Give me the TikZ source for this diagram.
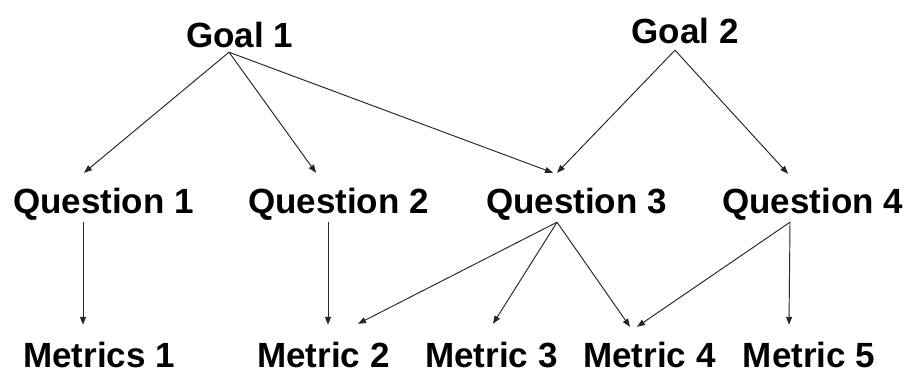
\documentclass[tikz,border=0pt]{standalone}
\usepackage{fontspec}
\setmainfont{Liberation Sans}
\usetikzlibrary{arrows.meta,calc}
\begin{document}
\begin{tikzpicture}[x=1pt,y=-1pt,
  lbl/.style={font=\bfseries\fontsize{35}{40}\selectfont, inner sep=0pt, text height=26pt, text depth=0pt, anchor=base},
  arr/.style={draw=black!85, line width=0.95pt, -{Triangle[length=8pt,width=6pt]}}]
\useasboundingbox[fill=white] (0,0) rectangle (909,374);
% nodes
\node[lbl] (g1) at (239.5,48) {Goal 1};
\node[lbl] (g2) at (685,44) {Goal 2};
\node[lbl] (q1) at (103.5,213) {Question 1};
\node[lbl] (q2) at (338.5,213) {Question 2};
\node[lbl] (q3) at (576.5,213) {Question 3};
\node[lbl] (q4) at (812.5,213) {Question 4};
\node[lbl] (m1) at (99,367) {Metrics 1};
\node[lbl] (m2) at (323.5,367) {Metric 2};
\node[lbl] (m3) at (491.5,367) {Metric 3};
\node[lbl] (m4) at (649.5,367) {Metric 4};
\node[lbl] (m5) at (809,367) {Metric 5};
% goal -> question
\draw[arr] ($(g1.south)+(-10.5,4)$) -- ($(q1.north)+(-19.5,-14)$);
\draw[arr] ($(g1.south)+(-10.5,4)$) -- ($(q2.north)+(-22.5,-14)$);
\draw[arr] ($(g1.south)+(-10.5,4)$) -- ($(q3.north)+(-23.5,-14)$);
\draw[arr] ($(g2.south)+(-10,6)$) -- ($(q3.north)+(-19.5,-14)$);
\draw[arr] ($(g2.south)+(-10,6)$) -- ($(q4.north)+(-24.5,-13)$);
% question -> metric
\draw[arr] ($(q1.south)+(-20.5,9)$) -- ($(m1.north)+(-16,-16)$);
\draw[arr] ($(q2.south)+(-10.5,9)$) -- ($(m2.north)+(4.5,-16)$);
\draw[arr] ($(q3.south)+(-19.5,9)$) -- ($(m2.north)+(34.5,-17)$);
\draw[arr] ($(q3.south)+(-19.5,9)$) -- ($(m3.north)+(1.5,-17)$);
\draw[arr] ($(q3.south)+(-19.5,9)$) -- ($(m4.north)+(-19.5,-14)$);
\draw[arr] ($(q4.south)+(-22.5,9)$) -- ($(m4.north)+(-12.5,-14)$);
\draw[arr] ($(q4.south)+(-22.5,9)$) -- ($(m5.north)+(-20,-16)$);
\end{tikzpicture}
\end{document}
